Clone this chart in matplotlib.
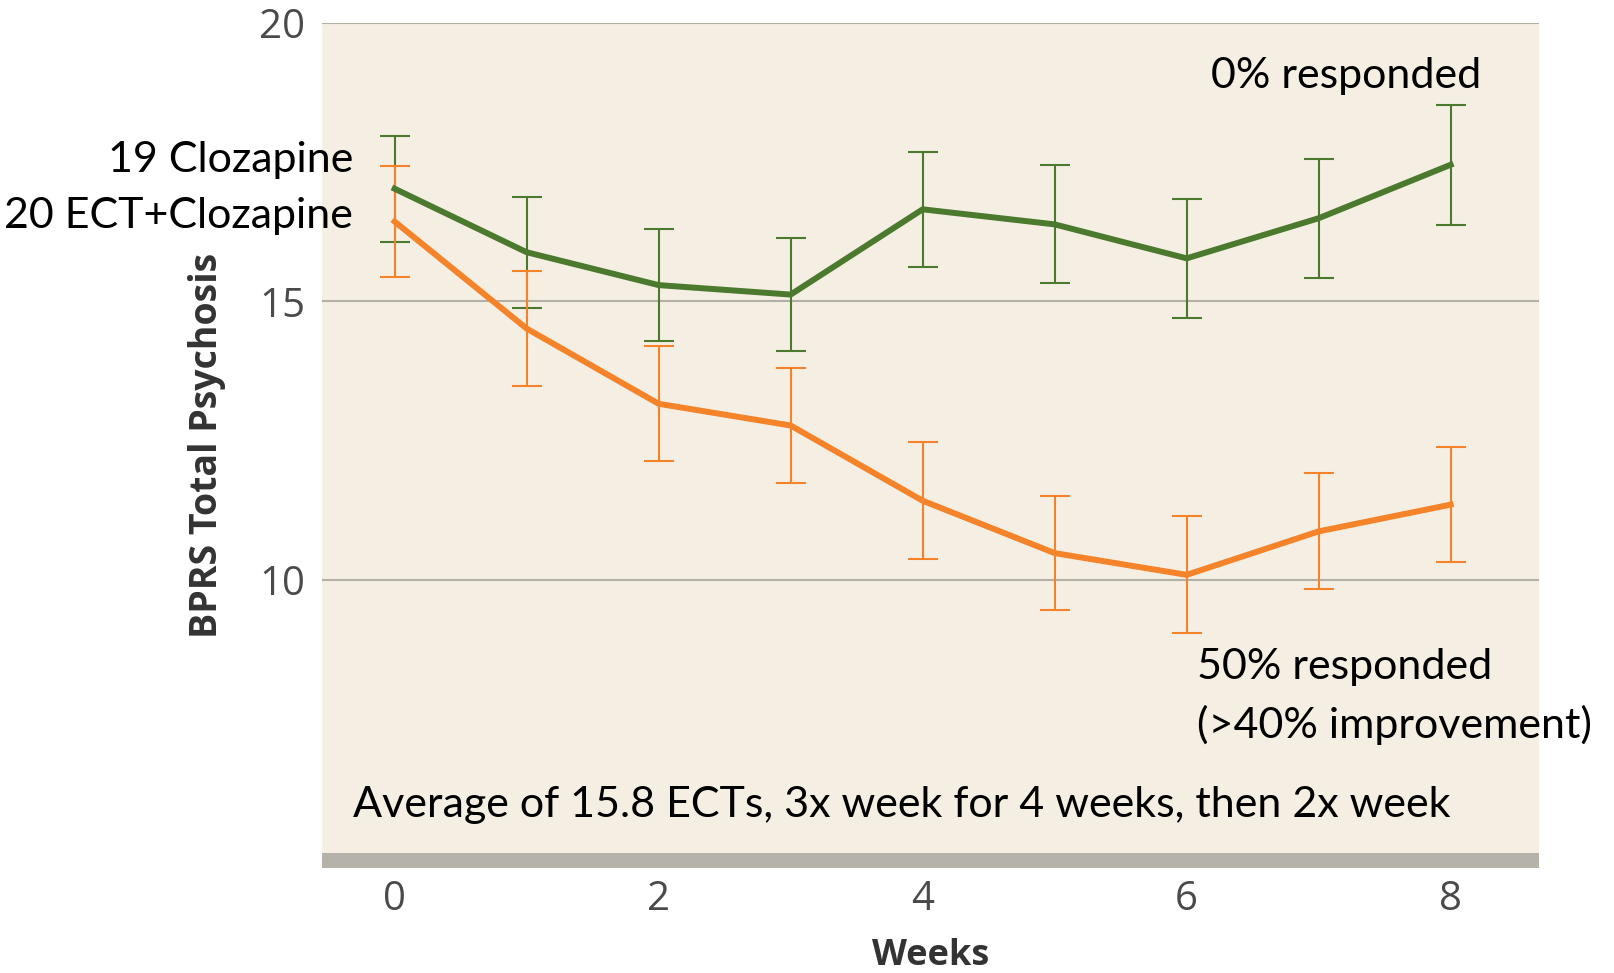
import matplotlib.pyplot as plt

weeks = [0, 1, 2, 3, 4, 5, 6, 7, 8]
cloz = [17.02, 15.88, 15.29, 15.12, 16.65, 16.38, 15.77, 16.49, 17.45]
cloz_err = [0.95, 1.0, 1.0, 1.02, 1.03, 1.06, 1.07, 1.07, 1.08]
ect = [16.43, 14.51, 13.16, 12.77, 11.42, 10.48, 10.09, 10.87, 11.35]
ect_err = [1.0, 1.03, 1.03, 1.04, 1.05, 1.02, 1.05, 1.04, 1.03]
yticks = [10, 15, 20]
xticks = [0, 2, 4, 6, 8]

green = '#4b7a2f'
orange = '#f5832a'

fig = plt.figure(figsize=(16.15, 9.73), dpi=100)
ax = fig.add_axes([0.1994, 0.108, 0.7536, 0.8687])
ax.set_facecolor('#f5efe3')
for s in ax.spines.values():
    s.set_visible(False)

ax.set_xlim(-0.55, 8.67)
ax.set_ylim(4.83, 20)
ax.axhspan(4.83, 5.1, color='#b5b2aa', lw=0, zorder=1)
for v in yticks:
    ax.axhline(v, color='#b3b0a8', lw=1.5, zorder=1)

ax.errorbar(weeks, cloz, yerr=cloz_err, color=green, lw=4.3, elinewidth=1.5,
            capsize=11, capthick=1.5, zorder=3)
ax.errorbar(weeks, ect, yerr=ect_err, color=orange, lw=4.3, elinewidth=1.5,
            capsize=11, capthick=1.5, zorder=3)

ax.set_yticks(yticks)
ax.set_xticks(xticks)
ax.tick_params(length=0, labelsize=29, labelcolor='#4a4a4a')
ax.tick_params(axis='y', pad=12)
ax.tick_params(axis='x', pad=8)
for lab in ax.get_xticklabels() + ax.get_yticklabels():
    lab.set_family('Open Sans')

ax.set_ylabel('BPRS Total Psychosis', fontsize=27, fontweight='bold',
              color='#333333', family='Open Sans', labelpad=24)
ax.set_xlabel('Weeks', fontsize=26, fontweight='bold', color='#333333',
              family='Open Sans', labelpad=13)

tk = dict(fontsize=31, family='Lato', color='black', va='center')
fig.text(0.750, 0.922, '0% responded', ha='left', **tk)
fig.text(0.2186, 0.836, '19 Clozapine', ha='right', **tk)
fig.text(0.2186, 0.778, '20 ECT+Clozapine', ha='right', **tk)
fig.text(0.741, 0.314, '50% responded', ha='left', **tk)
fig.text(0.741, 0.255, '(>40% improvement)', ha='left', **tk)
fig.text(0.2186, 0.173, 'Average of 15.8 ECTs, 3x week for 4 weeks, then 2x week',
         ha='left', **tk)

fig.savefig('out.png')
